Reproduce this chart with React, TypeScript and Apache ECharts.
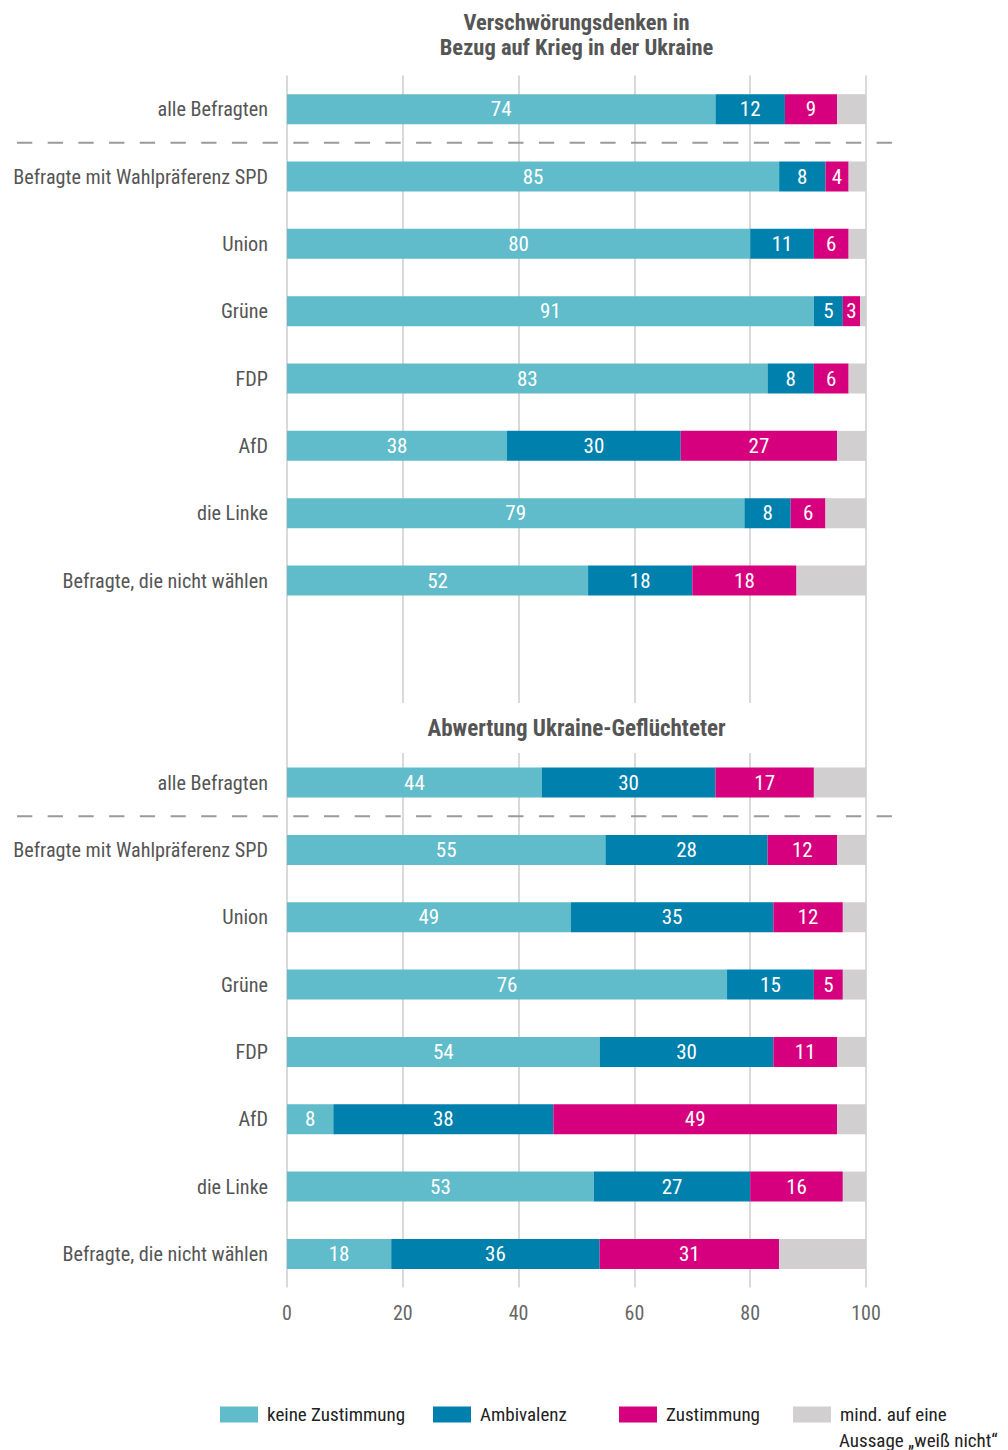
import { useEffect, useRef } from "react";
import * as echarts from "echarts";

const groups = [
  "alle Befragten",
  "Befragte mit Wahlpräferenz SPD",
  "Union",
  "Grüne",
  "FDP",
  "AfD",
  "die Linke",
  "Befragte, die nicht wählen",
];
const sectionTitles = [
  "Verschwörungsdenken in\nBezug auf Krieg in der Ukraine",
  "Abwertung Ukraine-Geflüchteter",
];
const seriesNames = [
  "keine Zustimmung",
  "Ambivalenz",
  "Zustimmung",
  "mind. auf eine Aussage „weiß nicht“",
];
const legendLines = ["mind. auf eine", "Aussage „weiß nicht“"];
const xTicks = [0, 20, 40, 60, 80, 100];

// Panel 1: Verschwörungsdenken in Bezug auf Krieg in der Ukraine
const warKeine = [74, 85, 80, 91, 83, 38, 79, 52];
const warAmbi = [12, 8, 11, 5, 8, 30, 8, 18];
const warZust = [9, 4, 6, 3, 6, 27, 6, 18];
const warWeiss = [5, 3, 3, 1, 3, 5, 7, 12];

// Panel 2: Abwertung Ukraine-Geflüchteter
const refKeine = [44, 55, 49, 76, 54, 8, 53, 18];
const refAmbi = [30, 28, 35, 15, 30, 38, 27, 36];
const refZust = [17, 12, 12, 5, 11, 49, 16, 31];
const refWeiss = [9, 5, 4, 4, 5, 5, 4, 15];

const colors = ["#60bbca", "#0081ad", "#d6007e", "#d1cfd0"];
const FONT = "'Roboto Condensed', 'Liberation Sans Narrow', sans-serif";

export default function App() {
  const ref = useRef<HTMLDivElement>(null);
  useEffect(() => {
    const chart = echarts.init(ref.current!, null, { renderer: "svg" });
    const labels = [...groups, "", "", ...groups];
    const keys = labels.map((_, i) => "r" + i);
    const join = (a: number[], b: number[]) => [...a, null, null, ...b];
    const seriesData = [
      join(warKeine, refKeine),
      join(warAmbi, refAmbi),
      join(warZust, refZust),
      join(warWeiss, refWeiss),
    ];

    const legendLefts = [220, 433, 619, 793];
    const legends = seriesNames.map((n, i) => ({
      data: [n],
      left: legendLefts[i],
      top: 1405,
      padding: 0,
      orient: "horizontal",
      icon: "rect",
      itemWidth: 38,
      itemHeight: 16,
      selectedMode: false,
      formatter: i === 3 ? () => legendLines[0] : undefined,
      textStyle: { fontFamily: FONT, fontSize: 19, color: "#222", padding: [0, 0, 0, 4] },
    }));

    chart.setOption({
      animation: false,
      color: colors,
      grid: {
        left: 287,
        right: 142,
        top: 75.5,
        bottom: 162.4,
        containLabel: false,
        outerBoundsMode: "none",
      },
      legend: legends,
      xAxis: {
        type: "value",
        min: xTicks[0],
        max: xTicks[xTicks.length - 1],
        interval: 20,
        axisLine: { show: false },
        axisTick: { show: false },
        splitLine: { show: true, lineStyle: { color: "#d9d9d9", width: 2 } },
        axisLabel: { color: "#666", fontSize: 20, fontFamily: FONT, margin: 15 },
      },
      yAxis: {
        type: "category",
        inverse: true,
        data: keys,
        axisLine: { show: false },
        axisTick: { show: false },
        splitLine: { show: false },
        axisLabel: {
          color: "#555",
          fontSize: 20.2,
          fontFamily: FONT,
          margin: 19,
          formatter: (_v: string, idx: number) => labels[idx],
        },
      },
      series: seriesNames.map((n, i) => ({
        name: n,
        type: "bar",
        stack: "total",
        barWidth: 30,
        data: seriesData[i],
        itemStyle: { color: colors[i] },
        label: {
          show: i < 3,
          position: "inside",
          color: "#fff",
          fontSize: 21,
          fontFamily: FONT,
        },
      })),
    });

    const yOf = (k: string) => chart.convertToPixel({ yAxisIndex: 0 }, k) as number;
    const sep1 = (yOf(keys[0]) + yOf(keys[1])) / 2;
    const sep2 = (yOf(keys[10]) + yOf(keys[11])) / 2;
    const xMid = ((chart.convertToPixel({ xAxisIndex: 0 }, 0) as number) +
      (chart.convertToPixel({ xAxisIndex: 0 }, 100) as number)) / 2;

    const dashed = (y: number) => ({
      type: "line",
      z: 50,
      shape: { x1: 17, y1: y, x2: 893, y2: y },
      style: { stroke: "#9a9a9a", lineWidth: 2, lineDash: [15.3, 15.4] },
    });

    chart.setOption({
      graphic: {
        elements: [
          {
            type: "text",
            x: xMid,
            y: 34.5,
            z: 60,
            style: {
              text: sectionTitles[0],
              textAlign: "center",
              textVerticalAlign: "middle",
              font: `bold 22.5px ${FONT}`,
              lineHeight: 25,
              fill: "#555",
            },
          },
          {
            type: "rect",
            z: 55,
            shape: { x: 292, y: 703, width: 570, height: 50 },
            style: { fill: "#fff" },
          },
          {
            type: "text",
            x: xMid,
            y: 728,
            z: 60,
            style: {
              text: sectionTitles[1],
              textAlign: "center",
              textVerticalAlign: "middle",
              font: `bold 23px ${FONT}`,
              fill: "#555",
            },
          },
          dashed(sep1),
          dashed(sep2),
          {
            type: "text",
            x: 839,
            y: 1440,
            z: 60,
            style: {
              text: legendLines[1],
              textAlign: "left",
              textVerticalAlign: "middle",
              font: `19px ${FONT}`,
              fill: "#222",
            },
          },
        ],
      },
    });

    return () => chart.dispose();
  }, []);
  return (
    <div style={{ position: "absolute", left: 0, top: 0, width: 1008, height: 1450, background: "#fff" }}>
      <div ref={ref} style={{ width: 1008, height: 1450 }} />
    </div>
  );
}
